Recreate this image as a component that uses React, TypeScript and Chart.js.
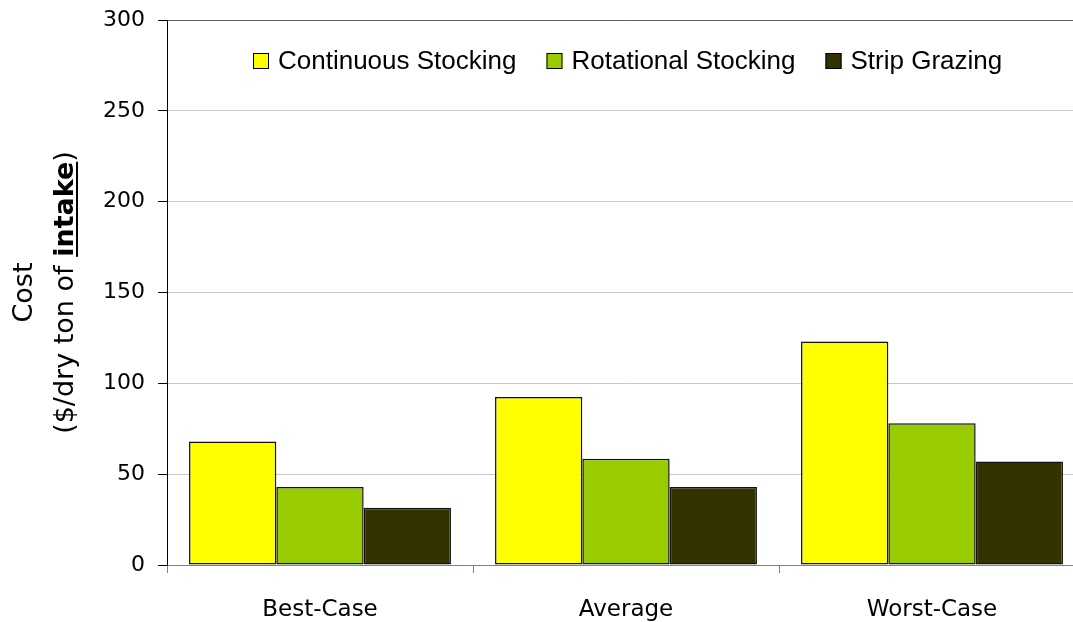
import React, { useEffect, useRef } from 'react';
import { Chart, registerables } from 'chart.js';

Chart.register(...registerables);

const categories = ['Best-Case', 'Average', 'Worst-Case'];
const seriesNames = ['Continuous Stocking', 'Rotational Stocking', 'Strip Grazing'];
const continuousStocking = [68, 92.5, 123];
const rotationalStocking = [43, 58.5, 78];
const stripGrazing = [31.5, 43, 57];
const seriesColors = ['#FFFF00', '#99CC00', '#333300'];
const yMin = 0;
const yMax = 300;
const yStep = 50;
const titleLine1 = 'Cost';
const titleLine2Parts = ['($/dry ton of ', 'intake', ')'];

const overlayPlugin = {
  id: 'overlay',
  afterDraw(chart: any) {
    const ctx = chart.ctx as CanvasRenderingContext2D;
    const area = chart.chartArea;
    ctx.save();
    // Legend inside plot area
    ctx.font = '26px "Liberation Sans", Arial, sans-serif';
    ctx.textBaseline = 'middle';
    ctx.textAlign = 'left';
    let x = 253;
    const y = 61;
    chart.data.datasets.forEach((ds: any) => {
      ctx.fillStyle = ds.backgroundColor;
      ctx.fillRect(x, y - 8, 16, 16);
      ctx.strokeStyle = '#000';
      ctx.lineWidth = 1;
      ctx.strokeRect(x + 0.5, y - 7.5, 15, 15);
      ctx.fillStyle = '#000';
      ctx.fillText(ds.label, x + 25, y + 1);
      x += 25 + ctx.measureText(ds.label).width + 30;
    });
    ctx.restore();

    // Y axis title
    const cy = (area.top + area.bottom) / 2;
    const normal = '27px "DejaVu Sans", Verdana, sans-serif';
    const bold = 'bold 27px "DejaVu Sans", Verdana, sans-serif';
    ctx.save();
    ctx.translate(32, cy);
    ctx.rotate(-Math.PI / 2);
    ctx.font = normal;
    ctx.fillStyle = '#000';
    ctx.textAlign = 'center';
    ctx.textBaseline = 'alphabetic';
    ctx.fillText(titleLine1, 0, 0);
    ctx.restore();

    ctx.save();
    ctx.translate(73, cy);
    ctx.rotate(-Math.PI / 2);
    ctx.fillStyle = '#000';
    ctx.textAlign = 'left';
    ctx.textBaseline = 'alphabetic';
    ctx.font = normal;
    const w1 = ctx.measureText(titleLine2Parts[0]).width;
    const w3 = ctx.measureText(titleLine2Parts[2]).width;
    ctx.font = bold;
    const w2 = ctx.measureText(titleLine2Parts[1]).width;
    const total = w1 + w2 + w3;
    let sx = -total / 2;
    ctx.font = normal;
    ctx.fillText(titleLine2Parts[0], sx, 0);
    sx += w1;
    ctx.font = bold;
    ctx.fillText(titleLine2Parts[1], sx, 0);
    ctx.fillRect(sx, 3, w2, 2);
    sx += w2;
    ctx.font = normal;
    ctx.fillText(titleLine2Parts[2], sx, 0);
    ctx.restore();
  },
};

export default function App() {
  const canvasRef = useRef<HTMLCanvasElement | null>(null);

  useEffect(() => {
    document.body.style.overflow = 'hidden';
    const canvas = canvasRef.current;
    if (!canvas) return;
    const values = [continuousStocking, rotationalStocking, stripGrazing];
    const chart = new Chart(canvas, {
      type: 'bar',
      data: {
        labels: categories,
        datasets: seriesNames.map((name, i) => ({
          label: name,
          data: values[i],
          backgroundColor: seriesColors[i],
          borderColor: '#111',
          borderWidth: 1.5,
          borderSkipped: false,
          categoryPercentage: 0.856,
          barPercentage: 1.0,
        })),
      },
      options: {
        responsive: false,
        animation: false,
        devicePixelRatio: 1,
        layout: { padding: { top: 20, right: 15, left: 0, bottom: 0 } },
        plugins: {
          legend: { display: false },
          tooltip: { enabled: false },
          title: { display: false },
        },
        scales: {
          x: {
            grid: {
              drawOnChartArea: false,
              drawTicks: true,
              tickLength: 8,
              color: '#808080',
              offset: true,
            },
            border: { color: '#808080' },
            ticks: {
              font: { family: '"DejaVu Sans", Verdana, sans-serif', size: 23 },
              color: '#000',
              padding: 23,
            },
            afterFit(scale: any) {
              scale.height = 57;
            },
          },
          y: {
            min: yMin,
            max: yMax,
            ticks: {
              stepSize: yStep,
              font: { family: '"DejaVu Sans", Verdana, sans-serif', size: 22 },
              color: '#000',
              padding: 13,
            },
            grid: {
              color: (c: any) => (c.tick && c.tick.value === yMax ? '#606060' : '#c8c8c8'),
              tickColor: '#000',
              tickLength: 9,
            },
            border: { color: '#000' },
            afterFit(scale: any) {
              scale.width = 167;
              scale.paddingTop = 0;
              scale.paddingBottom = 0;
            },
          },
        },
      },
      plugins: [overlayPlugin],
    });
    return () => chart.destroy();
  }, []);

  return (
    <div style={{ position: 'fixed', left: 0, top: 0, width: 1100, height: 622, overflow: 'hidden', background: '#fff' }}>
      <canvas ref={canvasRef} width={1100} height={622} style={{ width: 1100, height: 622, display: 'block' }} />
    </div>
  );
}
